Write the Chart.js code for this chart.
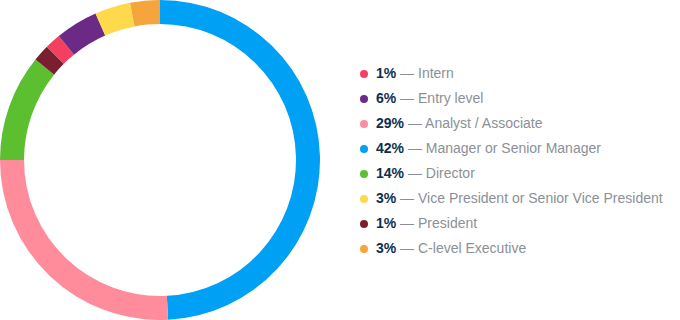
<!DOCTYPE html>
<html>
<head>
<meta charset="utf-8">
<script src="https://cdn.jsdelivr.net/npm/chart.js@4/dist/chart.umd.min.js"></script>
<style>
  html, body { margin: 0; padding: 0; background: #fff; }
  body { width: 680px; height: 320px; position: relative; overflow: hidden;
         font-family: "Liberation Sans", Arial, Helvetica, sans-serif; }
  #wrap { position: absolute; left: 0; top: 0; width: 320px; height: 320px; }
  #legend { position: absolute; left: 359px; top: 61px; margin: 0; padding: 0; list-style: none; }
  #legend li { height: 25px; line-height: 25px; font-size: 14px; white-space: nowrap; position: relative; padding-left: 17px; }
  #legend .dot { position: absolute; left: 1px; top: 8.5px; width: 8px; height: 8px; border-radius: 50%; }
  #legend .pct { font-weight: bold; color: #0d2f4f; }
  #legend .lab { color: #8b9098; }
</style>
</head>
<body>
<div id="wrap"><canvas id="c" width="320" height="320"></canvas></div>
<ul id="legend"></ul>
<script>
// Categories in legend order
const categories = ["Intern", "Entry level", "Analyst / Associate", "Manager or Senior Manager",
                    "Director", "Vice President or Senior Vice President", "President", "C-level Executive"];
// Percent labels shown in the legend
const legendPercents = [1, 6, 29, 42, 14, 3, 1, 3];
// Share of the ring each slice takes (percent of circle)
const sliceShares = [1.6, 4.3, 25.8, 49.2, 10.8, 3.6, 1.7, 3.0];
const colors = ["#f53f61", "#6b2a86", "#ff8c9b", "#00a0f5", "#5cbf2f", "#fdd94b", "#7a1f2f", "#f6a53d"];
// Order slices are drawn clockwise from 12 o'clock
const drawOrder = [3, 2, 4, 6, 0, 1, 5, 7];

const legend = document.getElementById('legend');
categories.forEach((name, i) => {
  const li = document.createElement('li');
  li.innerHTML = '<span class="dot" style="background:' + colors[i] + '"></span>' +
                 '<span class="pct">' + legendPercents[i] + '%</span>' +
                 '<span class="lab"> \u2014 ' + name + '</span>';
  legend.appendChild(li);
});

new Chart(document.getElementById('c'), {
  type: 'doughnut',
  data: {
    labels: drawOrder.map(i => categories[i]),
    datasets: [{
      data: drawOrder.map(i => sliceShares[i]),
      backgroundColor: drawOrder.map(i => colors[i]),
      borderWidth: 0
    }]
  },
  options: {
    responsive: false,
    animation: false,
    cutout: '85%',
    layout: { padding: 0 },
    plugins: { legend: { display: false }, tooltip: { enabled: false } }
  }
});
</script>
</body>
</html>
